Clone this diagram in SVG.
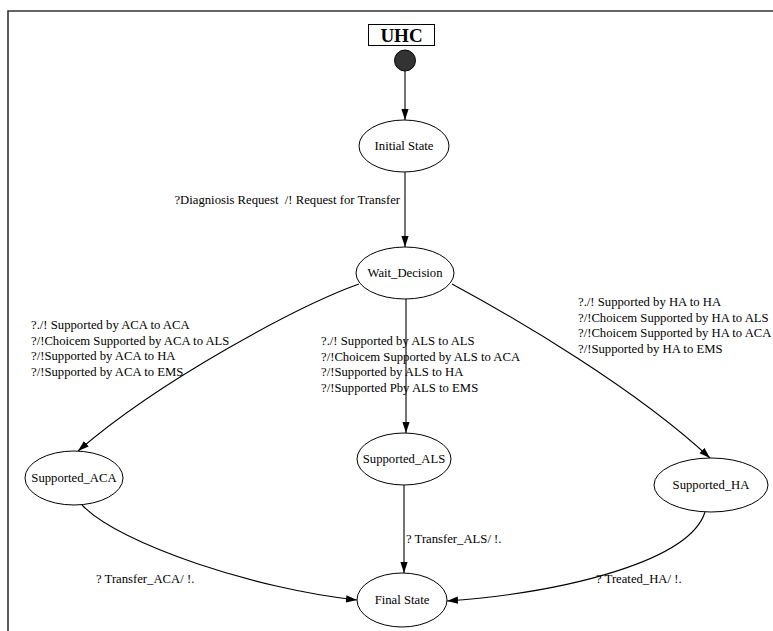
<svg xmlns="http://www.w3.org/2000/svg" width="773" height="631" viewBox="0 0 773 631">
  <style>
    text { font-family: "Liberation Serif", "Times New Roman", serif; font-size: 12.7px; fill: #000; }
    .node ellipse { fill: #fff; stroke: #000; stroke-width: 1; }
    .mid { text-anchor: middle; dominant-baseline: central; }
    .edge { fill: none; stroke: #000; stroke-width: 1.1; marker-end: url(#arrow); }
    .lbl { white-space: pre; }
  </style>
  <defs>
    <marker id="arrow" markerUnits="userSpaceOnUse" markerWidth="11" markerHeight="8" refX="11" refY="3.6" orient="auto">
      <path d="M0,0 L11,3.6 L0,7.2 z" fill="#000"/>
    </marker>
  </defs>

  <rect width="773" height="631" fill="#fff"/>
  <!-- frame -->
  <path d="M8,631 V11 H773" fill="none" stroke="#333" stroke-width="1.6"/>

  <!-- title -->
  <g id="title">
    <rect x="368.5" y="24.5" width="66" height="21" fill="#fff" stroke="#000" stroke-width="1"/>
    <text x="401.5" y="42" text-anchor="middle" style="font-size:19px;font-weight:bold">UHC</text>
  </g>

  <!-- connectors -->
  <g id="edges">
    <path class="edge" d="M405,71 V120"/>
    <path class="edge" d="M405,172 V247"/>
    <path class="edge" d="M359,284 C300,305 160,380 78,451"/>
    <path class="edge" d="M406,299 V433"/>
    <path class="edge" d="M452,284 C515,318 635,388 710,458"/>
    <path class="edge" d="M404,485 V573"/>
    <path class="edge" d="M82,505 C120,545 260,590 357,600"/>
    <path class="edge" d="M705,512 C690,560 570,592 447,601"/>

    <text class="lbl" x="400" y="204" text-anchor="end">?Diagniosis Request  /! Request for Transfer</text>

    <text class="lbl" x="31" y="329">?./! Supported by ACA to ACA</text>
    <text class="lbl" x="31" y="344.5">?/!Choicem Supported by ACA to ALS</text>
    <text class="lbl" x="31" y="360">?/!Supported by ACA to HA</text>
    <text class="lbl" x="31" y="375.5">?/!Supported by ACA to EMS</text>

    <text class="lbl" x="321" y="345">?./! Supported by ALS to ALS</text>
    <text class="lbl" x="321" y="360.5">?/!Choicem Supported by ALS to ACA</text>
    <text class="lbl" x="321" y="376">?/!Supported by ALS to HA</text>
    <text class="lbl" x="321" y="391.5">?/!Supported Pby ALS to EMS</text>

    <text class="lbl" x="578" y="306">?./! Supported by HA to HA</text>
    <text class="lbl" x="578" y="321.5">?/!Choicem Supported by HA to ALS</text>
    <text class="lbl" x="578" y="337">?/!Choicem Supported by HA to ACA</text>
    <text class="lbl" x="578" y="352.5">?/!Supported by HA to EMS</text>

    <text class="lbl" x="406" y="543">? Transfer_ALS/ !.</text>
    <text class="lbl" x="96" y="583">? Transfer_ACA/ !.</text>
    <text class="lbl" x="596" y="583">? Treated_HA/ !.</text>
  </g>

  <!-- states -->
  <g id="start" class="node">
    <circle cx="405" cy="60.5" r="10.5" fill="#333" stroke="#000" stroke-width="1"/>
  </g>
  <g id="initial_state" class="node">
    <ellipse cx="404" cy="146" rx="45" ry="26"/>
    <text class="mid" x="404" y="146">Initial State</text>
  </g>
  <g id="wait_decision" class="node">
    <ellipse cx="405" cy="273" rx="49" ry="26"/>
    <text class="mid" x="405" y="273">Wait_Decision</text>
  </g>
  <g id="supported_aca" class="node">
    <ellipse cx="74" cy="478" rx="49" ry="27"/>
    <text class="mid" x="74" y="478">Supported_ACA</text>
  </g>
  <g id="supported_als" class="node">
    <ellipse cx="404" cy="459" rx="47" ry="26"/>
    <text class="mid" x="404" y="459">Supported_ALS</text>
  </g>
  <g id="supported_ha" class="node">
    <ellipse cx="711" cy="485" rx="57" ry="27"/>
    <text class="mid" x="711" y="485">Supported_HA</text>
  </g>
  <g id="final_state" class="node">
    <ellipse cx="402" cy="600" rx="45" ry="27"/>
    <text class="mid" x="402" y="600">Final State</text>
  </g>
</svg>
